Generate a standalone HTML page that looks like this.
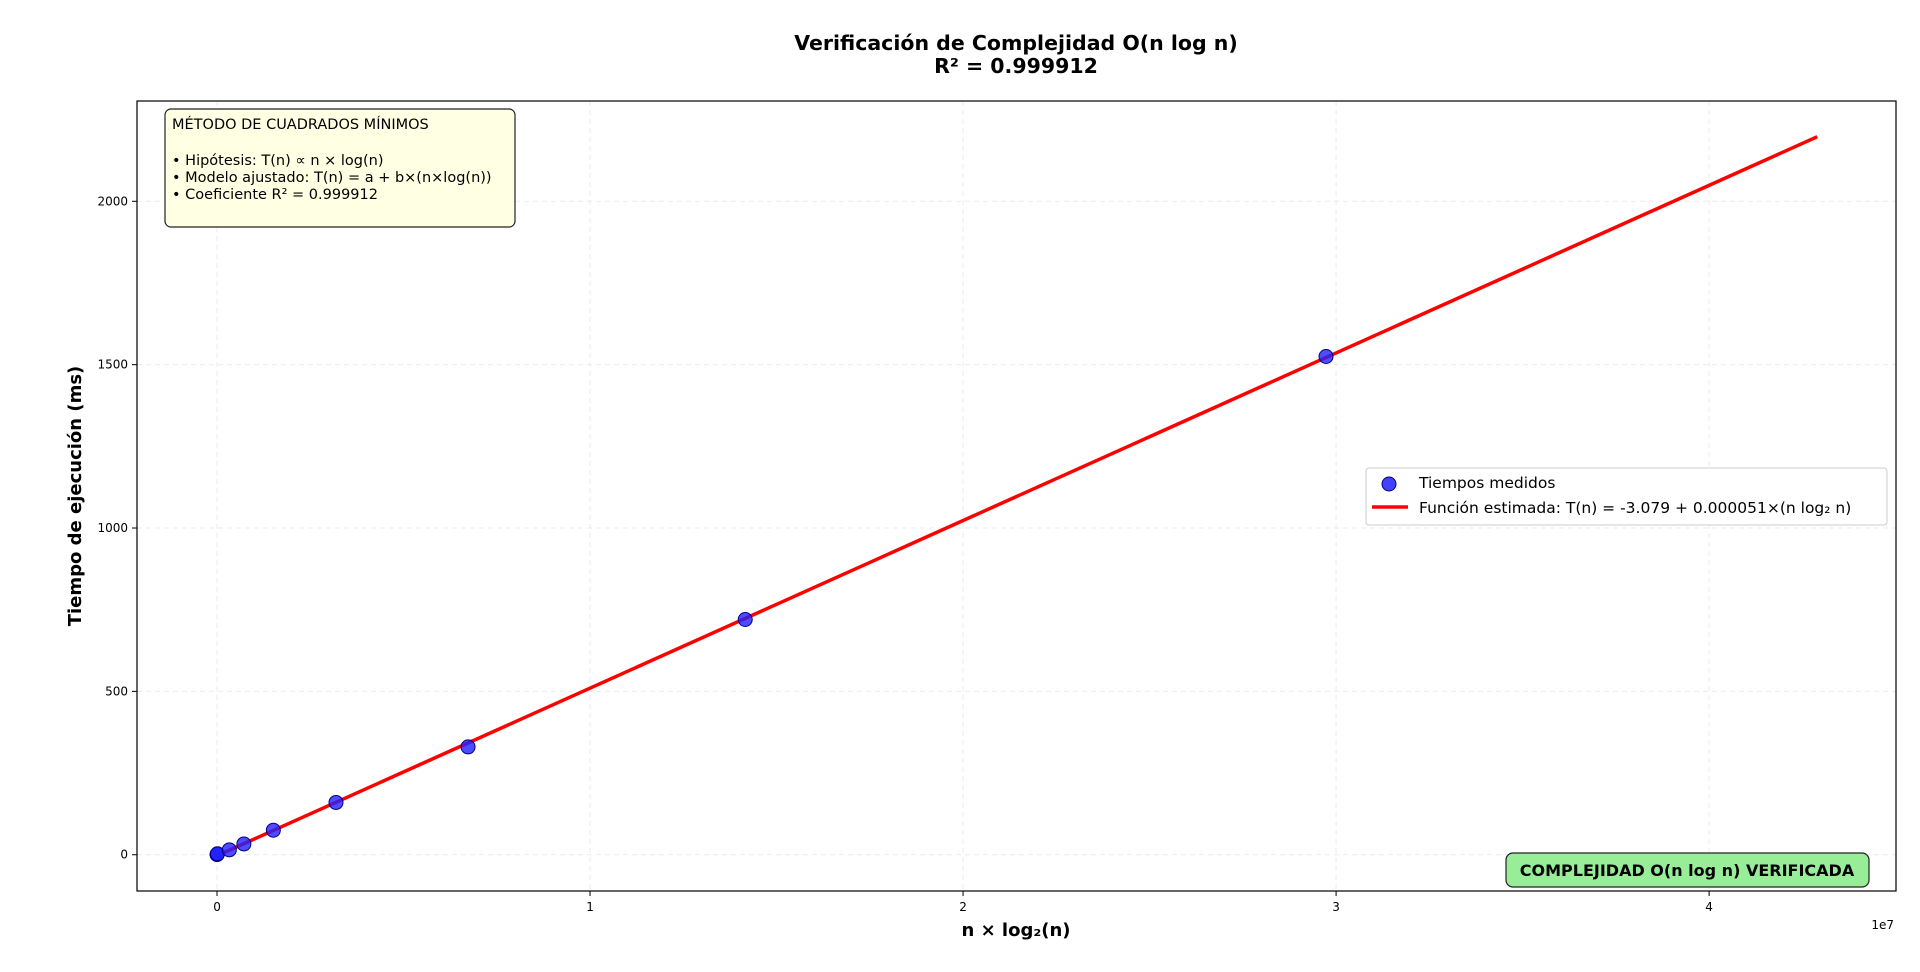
<!DOCTYPE html>
<html><head><meta charset="utf-8"><style>
body{margin:0;background:#fff}
svg{font-family:"DejaVu Sans","Liberation Sans",sans-serif}
</style></head><body>
<svg id="chart" width="1920" height="967" viewBox="0 0 1920 967" xmlns="http://www.w3.org/2000/svg">
<text x="1016" y="50" font-size="20.5" font-weight="bold" text-anchor="middle">Verificación de Complejidad O(n log n)</text>
<text x="1016" y="73" font-size="20.5" font-weight="bold" text-anchor="middle">R² = 0.999912</text>
<g id="grid"></g>
<g id="marks"></g>
<rect x="137" y="101" width="1759" height="790" fill="none" stroke="#000" stroke-width="1.2"/>
<g id="ticks" font-size="12"></g>
<text x="1016" y="936" font-size="18" font-weight="bold" text-anchor="middle">n × log₂(n)</text>
<text x="1894" y="929" font-size="12" text-anchor="end">1e7</text>
<text transform="translate(81,496) rotate(-90)" font-size="18" font-weight="bold" text-anchor="middle">Tiempo de ejecución (ms)</text>
<g>
<rect x="165" y="109" width="350" height="118" rx="6" fill="#ffffe3" stroke="#222" stroke-width="1.2"/>
<text x="172" y="129" font-size="14.5">MÉTODO DE CUADRADOS MÍNIMOS</text>
<text x="172" y="165" font-size="14.5">• Hipótesis: T(n) ∝ n × log(n)</text>
<text x="172" y="182" font-size="14.5">• Modelo ajustado: T(n) = a + b×(n×log(n))</text>
<text x="172" y="199" font-size="14.5">• Coeficiente R² = 0.999912</text>
</g>
<g>
<rect x="1366" y="468" width="521" height="57" rx="3" fill="#fff" fill-opacity="0.85" stroke="#ccc"/>
<circle cx="1389" cy="484" r="7" fill="#2020ff" fill-opacity="0.85" stroke="#000080"/>
<text x="1419" y="488" font-size="15.5">Tiempos medidos</text>
<line x1="1372" y1="507" x2="1408" y2="507" stroke="#ff0000" stroke-width="3.5"/>
<text x="1419" y="513" font-size="15.5">Función estimada: T(n) = -3.079 + 0.000051×(n log₂ n)</text>
</g>
<g>
<rect x="1506" y="853" width="363" height="34" rx="7" fill="#98ee98" stroke="#222" stroke-width="1.2"/>
<text x="1687" y="876" font-size="16" font-weight="bold" text-anchor="middle">COMPLEJIDAD O(n log n) VERIFICADA</text>
</g>
</svg>
<script>
const xVals=[0.0001,0.0005,0.0012,0.033,0.072,0.151,0.319,0.673,1.416,2.973];
const yVals=[0.5,1.5,3,15,33,75,160,330,720,1525];
const fitA=-3.079, fitB=513;
const fitRange=[0,4.29];
const xTicks=[0,1,2,3,4];
const yTicks=[0,500,1000,1500,2000];
const NS="http://www.w3.org/2000/svg";
const X0=137,X1=1896,Y0=101,Y1=891,xmin=-0.2145,xmax=4.501,ymin=-111,ymax=2307;
const sx=v=>X0+(v-xmin)/(xmax-xmin)*(X1-X0);
const sy=v=>Y1-(v-ymin)/(ymax-ymin)*(Y1-Y0);
function mk(t,a,p){const e=document.createElementNS(NS,t);for(const k in a)e.setAttribute(k,a[k]);p.appendChild(e);return e;}
const grid=document.getElementById('grid'),marks=document.getElementById('marks'),ticks=document.getElementById('ticks');
xTicks.forEach(t=>{const x=sx(t);
 const g=mk('line',{x1:x,x2:x,y1:Y0,y2:Y1,stroke:'#ebebeb','stroke-dasharray':'5,4'},grid);
 
 
 const tk=mk('line',{x1:x,x2:x,y1:Y1,y2:Y1+5,stroke:'#000'},ticks);
 
 
 const l=mk('text',{x:x,y:Y1+20,'text-anchor':'middle'},ticks);l.textContent=t;
 
 });
yTicks.forEach(t=>{const y=sy(t);
 const g=mk('line',{x1:X0,x2:X1,y1:y,y2:y,stroke:'#ebebeb','stroke-dasharray':'5,4'},grid);
 
 
 const tk=mk('line',{x1:X0-5,x2:X0,y1:y,y2:y,stroke:'#000'},ticks);
 
 
 const l=mk('text',{x:X0-9,y:y+4,'text-anchor':'end'},ticks);l.textContent=t;
 
 });
const fl=mk('line',{x1:sx(fitRange[0]),y1:sy(fitA+fitB*fitRange[0]),x2:sx(fitRange[1]),y2:sy(fitA+fitB*fitRange[1]),stroke:'#ff0000','stroke-width':3.5},marks);


xVals.forEach((v,i)=>{const c=mk('circle',{cx:sx(v),cy:sy(yVals[i]),r:7,fill:'#2020ff','fill-opacity':0.8,stroke:'#000080','stroke-width':1},marks);
 
 });
</script>
</body></html>
